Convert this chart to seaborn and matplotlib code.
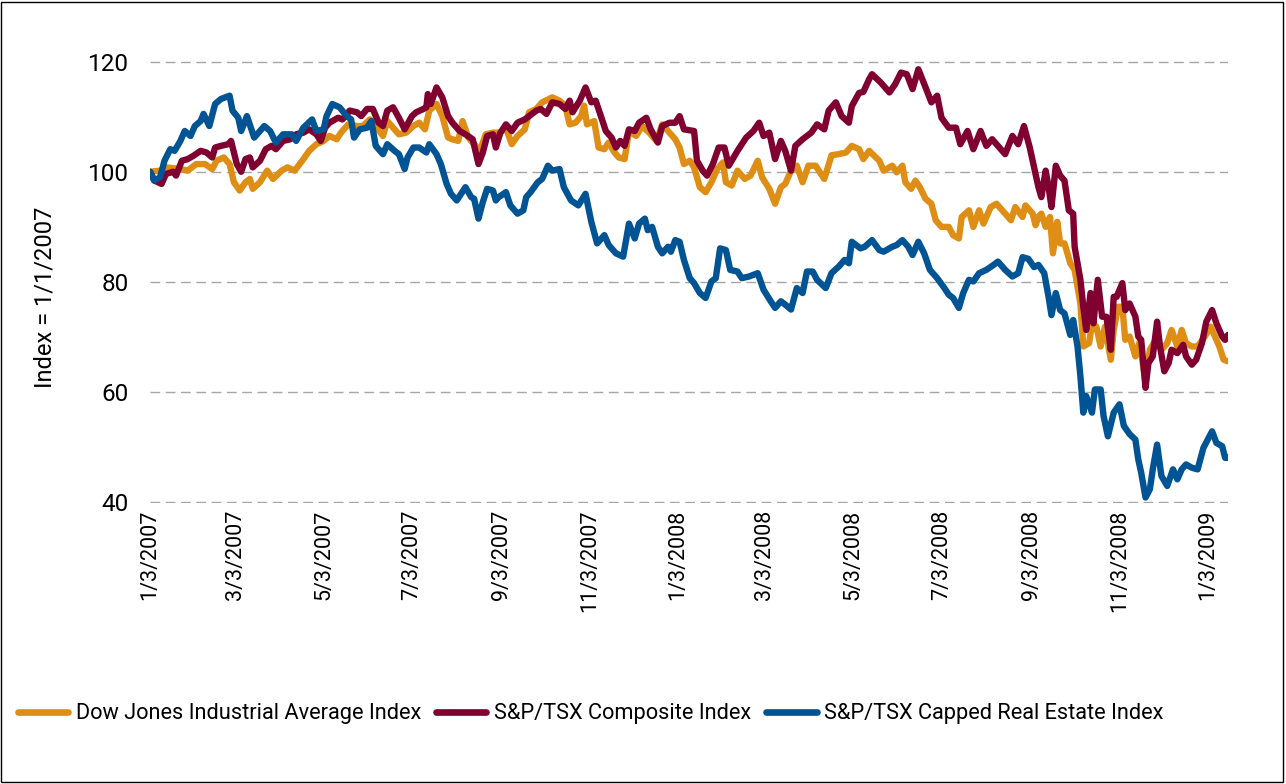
import pandas as pd
import matplotlib
matplotlib.use("Agg")
import matplotlib.pyplot as plt
import seaborn as sns
from matplotlib.patches import Rectangle

# days after 1/3/2007, values indexed to 100
start = pd.Timestamp("2007-01-03")

dow_days = [0, 7, 11, 21, 26, 32, 38, 43, 46, 51,
            55, 58, 62, 66, 69, 71, 76, 81, 85, 91,
            95, 100, 106, 110, 115, 120, 124, 129, 132, 137,
            143, 147, 152, 156, 161, 164, 168, 172, 177, 182,
            186, 190, 193, 198, 202, 206, 209, 213, 216, 220,
            223, 228, 232, 237, 242, 246, 250, 254, 259, 262,
            267, 271, 278, 283, 287, 290, 294, 298, 300, 302,
            307, 310, 314, 317, 321, 324, 328, 331, 336, 340,
            345, 350, 354, 359, 363, 366, 369, 373, 376, 380,
            384, 388, 392, 396, 398, 402, 406, 411, 415, 420,
            423, 428, 432, 436, 439, 443, 447, 451, 455, 460,
            466, 471, 476, 481, 485, 490, 493, 497, 504, 507,
            513, 516, 520, 522, 526, 529, 532, 536, 540, 543,
            547, 552, 555, 559, 561, 566, 569, 573, 576, 581,
            585, 590, 595, 598, 603, 605, 610, 612, 614, 616,
            619, 622, 624, 627, 629, 632, 636, 639, 643, 645,
            649, 651, 654, 657, 660, 664, 666, 669, 672, 674,
            677, 681, 684, 688, 691, 695, 699, 703, 706, 710,
            713, 716, 720, 724, 729, 733, 736, 739, 742, 745]
dow_vals = [100, 100.2, 100.8, 100.5, 100.2, 101.4, 101.4, 100.5, 102, 102.6,
            101.4, 98.1, 96.6, 98.1, 98.7, 96.9, 98.1, 100.2, 98.7, 100.2,
            100.8, 100.2, 102.3, 103.8, 105, 105.6, 106.5, 105.9, 107.1, 108.6,
            108.3, 108.3, 109.5, 108.3, 106.5, 109.2, 108, 106.8, 107.1, 108.3,
            108.9, 107.7, 111.1, 112.3, 110.1, 106.2, 105.9, 105.6, 109.2, 106.2,
            105.3, 103.8, 106.8, 107.1, 107.1, 108, 105, 106.5, 107.7, 110.8,
            111.4, 112.6, 113.5, 112.9, 112, 108.6, 108.9, 110.1, 112, 108.6,
            109.2, 104.4, 104.1, 105.3, 103.5, 102.6, 102.3, 107.4, 106.5, 108.3,
            107.1, 105.6, 108.6, 107.1, 105.9, 104.4, 101.4, 102, 100.8, 97.2,
            96.3, 98.1, 100.5, 101.7, 98.1, 97.5, 100.2, 98.7, 99.3, 102,
            99, 96.9, 94.2, 97.2, 97.8, 100.2, 101.1, 98.1, 101.1, 101.1,
            98.7, 103, 103.2, 103.5, 104.7, 104.1, 102.3, 103.8, 102, 100.2,
            101.1, 99.9, 101.1, 98.1, 96.9, 98.4, 97.2, 95.1, 94.2, 91.2,
            90, 90, 88.5, 87.9, 91.8, 93, 90, 93, 90.6, 93.6,
            94.2, 92.7, 91.2, 93.6, 91.8, 93.9, 92.4, 90.3, 91.8, 92.4,
            90, 91.8, 85.2, 90.9, 87, 87, 83.4, 82.2, 76.1, 68.3,
            68.9, 72.5, 71.9, 68.3, 71.9, 65.9, 71.3, 75.5, 75.5, 69.5,
            70.1, 66.5, 69.2, 61.7, 67.7, 69.5, 67.7, 68.9, 71.3, 68.3,
            71.3, 68.9, 68.3, 68.3, 70.1, 71.9, 70.1, 68.3, 65.9, 65.6]

tsx_days = [0, 3, 8, 11, 16, 18, 22, 26, 30, 35,
            39, 43, 45, 49, 54, 56, 60, 63, 66, 69,
            71, 76, 80, 84, 87, 92, 97, 101, 106, 110,
            115, 118, 121, 124, 130, 133, 138, 143, 146, 150,
            154, 158, 161, 164, 168, 172, 176, 181, 184, 189,
            191, 192, 194, 198, 202, 206, 209, 214, 218, 223,
            227, 230, 233, 237, 239, 242, 246, 250, 254, 259,
            262, 267, 270, 274, 278, 283, 287, 290, 292, 297,
            301, 305, 308, 312, 315, 319, 322, 325, 328, 331,
            335, 338, 343, 346, 351, 354, 359, 363, 366, 369,
            376, 378, 382, 385, 389, 393, 397, 400, 406, 412,
            417, 421, 424, 428, 432, 436, 439, 443, 446, 451,
            457, 461, 466, 469, 474, 478, 483, 485, 490, 493,
            497, 499, 505, 511, 515, 519, 523, 527, 531, 536,
            540, 544, 547, 552, 557, 560, 565, 569, 574, 578,
            582, 586, 591, 596, 600, 604, 608, 611, 614, 616,
            619, 621, 623, 626, 629, 632, 635, 638, 639, 643,
            645, 647, 650, 652, 655, 658, 661, 664, 666, 668,
            672, 674, 677, 681, 683, 685, 688, 690, 693, 696,
            698, 701, 704, 706, 710, 714, 716, 720, 723, 727,
            730, 734, 737, 741, 743, 745]
tsx_vals = [100, 98.4, 97.8, 99.6, 100, 99.3, 102, 102.3, 102.9, 103.8,
            103.5, 102.6, 104.4, 104.7, 105, 105.6, 101.4, 100, 102.3, 102.6,
            100.8, 102, 104.1, 104.7, 104.1, 105.6, 105.9, 106.8, 107.1, 107.7,
            106.8, 105.6, 108, 108.9, 109.8, 109.5, 111.1, 110.8, 110.1, 111.4,
            111.4, 108.9, 108.3, 111.1, 111.7, 109.8, 107.7, 110.1, 110.8, 111.4,
            111.7, 114.1, 112.3, 115.3, 113.5, 110.1, 108.9, 107.4, 106.8, 105.9,
            101.4, 103.5, 106.5, 106.8, 104.4, 107, 108.6, 107.4, 108.9, 109.5,
            110.1, 111.1, 111.4, 110.5, 112.6, 112.3, 111.4, 112.9, 110.8, 112.9,
            115.3, 112.6, 112.9, 109.8, 107.4, 106.2, 104.4, 105.6, 104.7, 107.7,
            107.4, 108.9, 109.8, 107.7, 105.3, 108.3, 108.9, 108.9, 110.1, 107.7,
            107.4, 102, 100.2, 99.3, 101.4, 104.4, 104.4, 101.1, 103.8, 106.2,
            107.4, 108.9, 106.5, 107.1, 102.3, 105.6, 103.8, 100.2, 104.7, 105.9,
            107.1, 108.6, 107.7, 111.1, 112.6, 110.1, 108.9, 111.9, 114.3, 114.5,
            116.8, 117.7, 116.2, 114.4, 115.9, 118, 117.7, 115, 118.6, 115.3,
            112.6, 113.8, 109.8, 108, 108, 105, 107.4, 104.1, 107.4, 104.7,
            105.9, 104.7, 103.2, 106.5, 105, 108.3, 104.4, 100.8, 97.2, 95.4,
            100.2, 97.2, 93.6, 101.1, 99.3, 98.4, 93, 92.4, 86.4, 80.4,
            75.5, 71.3, 78, 72.5, 80.4, 73.7, 73.7, 67.7, 77.3, 77.3,
            79.8, 74.9, 76.1, 73.7, 70.1, 69.5, 60.8, 65.3, 66.5, 72.8,
            68.3, 63.8, 65.3, 67.7, 67.1, 68.6, 66.5, 65, 65.9, 68.9,
            72.8, 74.9, 72.5, 70.1, 69.5, 70.4]

reit_days = [0, 3, 7, 10, 14, 17, 21, 24, 28, 31,
             35, 37, 41, 45, 49, 55, 57, 61, 63, 67,
             72, 79, 83, 87, 92, 98, 101, 106, 112, 115,
             120, 122, 126, 131, 136, 139, 141, 145, 150, 153,
             156, 161, 164, 169, 172, 176, 178, 182, 186, 191,
             193, 198, 201, 205, 208, 212, 215, 218, 222, 224,
             227, 230, 233, 237, 239, 241, 246, 249, 254, 258,
             260, 263, 268, 271, 275, 278, 283, 286, 291, 296,
             301, 305, 309, 314, 317, 322, 327, 331, 335, 338,
             342, 344, 347, 351, 354, 358, 360, 363, 366, 369,
             373, 376, 380, 384, 388, 391, 394, 398, 401, 406,
             409, 414, 420, 424, 429, 432, 436, 439, 443, 447,
             451, 454, 458, 461, 467, 471, 476, 480, 483, 485,
             491, 494, 499, 504, 507, 513, 516, 520, 524, 527,
             531, 535, 539, 544, 549, 552, 555, 559, 562, 566,
             569, 573, 578, 583, 586, 591, 596, 600, 603, 607,
             611, 614, 618, 621, 623, 626, 629, 632, 636, 638,
             641, 643, 645, 647, 651, 653, 657, 659, 662, 666,
             670, 673, 677, 681, 683, 685, 688, 691, 693, 696,
             699, 703, 707, 710, 713, 716, 720, 724, 728, 731,
             734, 737, 741, 743, 745]
reit_vals = [100, 98.4, 99, 102, 104.1, 103.8, 105.6, 107.4, 106.5, 108.3,
             109.2, 110.5, 108.3, 112.3, 113.2, 113.8, 111.1, 109.8, 107.4, 110.1,
             106.2, 108.3, 107.4, 105.3, 106.8, 106.8, 105.6, 108, 109.5, 107.4,
             107.7, 110.1, 112.3, 111.7, 110.1, 109.5, 106.2, 107.7, 108, 109.2,
             104.7, 103.2, 105, 103.8, 103.2, 100.5, 102.6, 104.4, 104.4, 103.5,
             105, 103.2, 101.4, 97.8, 96, 94.8, 96, 97.2, 95.4, 95.1,
             91.5, 94.5, 96.9, 96.6, 94.8, 95.4, 96.3, 93.9, 92.4, 93,
             95.4, 96.3, 98.1, 98.7, 101.1, 100.2, 100.5, 97.2, 94.8, 93.9,
             96, 90.9, 87, 88.5, 86.7, 85.2, 84.6, 90.6, 87.9, 90.6,
             91.5, 89.4, 90, 86.4, 85.2, 86.4, 85.5, 87.6, 87.3, 84,
             80.7, 79.8, 78, 77.1, 80.1, 80.7, 86.1, 85.8, 82.2, 81.9,
             80.7, 81, 81.6, 78.6, 76.5, 75.3, 76.5, 75.9, 75, 78.9,
             78, 81.9, 81.9, 80.4, 78.9, 81.6, 82.8, 84, 83.4, 87.3,
             86.1, 86.4, 87.6, 85.8, 85.5, 86.4, 86.7, 87.6, 86.4, 84.9,
             87.3, 85.2, 82.2, 80.7, 78.9, 77.7, 77.1, 75.3, 78, 80.4,
             80.1, 81.6, 82.2, 83.1, 83.7, 82.2, 81, 81.6, 84.5, 84.2,
             82.7, 83.1, 81.6, 77.3, 74, 78, 74.9, 74.3, 70.4, 73.1,
             68.3, 62.9, 56.3, 59.3, 56.3, 60.5, 60.5, 55.7, 52, 56.3,
             57.8, 53.9, 52.4, 51.4, 47.8, 45.4, 40.9, 42.4, 46, 50.5,
             44.8, 43, 46, 44.2, 46, 46.9, 46.3, 46, 49.9, 51.4,
             52.9, 50.8, 50.2, 48.1, 48.1]

series_names = ["Dow Jones Industrial Average Index",
                "S&P/TSX Composite Index",
                "S&P/TSX Capped Real Estate Index"]
colors = ["#DE8E14", "#80002F", "#005493"]

tick_dates = ["2007-01-03", "2007-03-03", "2007-05-03", "2007-07-03", "2007-09-03",
              "2007-11-03", "2008-01-03", "2008-03-03", "2008-05-03", "2008-07-03",
              "2008-09-03", "2008-11-03", "2009-01-03"]
tick_labels = ["1/3/2007", "3/3/2007", "5/3/2007", "7/3/2007", "9/3/2007",
               "11/3/2007", "1/3/2008", "3/3/2008", "5/3/2008", "7/3/2008",
               "9/3/2008", "11/3/2008", "1/3/2009"]
y_ticks = [40, 60, 80, 100, 120]

frames = []
for name, days, vals in zip(series_names, [dow_days, tsx_days, reit_days],
                            [dow_vals, tsx_vals, reit_vals]):
    frames.append(pd.DataFrame({
        "date": start + pd.to_timedelta(days, unit="D"),
        "value": vals,
        "series": name}))
df = pd.concat(frames, ignore_index=True)

sns.set_theme(style="white")
plt.rcParams['font.family'] = ['Roboto', 'DejaVu Sans']
plt.rcParams['text.color'] = 'black'
plt.rcParams['xtick.color'] = 'black'
plt.rcParams['ytick.color'] = 'black'
plt.rcParams['axes.labelcolor'] = 'black'

fig = plt.figure(figsize=(12.86, 7.84), dpi=100)
ax = fig.add_axes([150 / 1286, 1 - 503 / 784, 1078 / 1286, 442 / 784])

sns.lineplot(data=df, x="date", y="value", hue="series", hue_order=series_names,
             palette=colors, linewidth=4.6, estimator=None, sort=False, ax=ax)

ax.set_xlim(start, start + pd.Timedelta(days=745))
ax.set_ylim(39.9, 120.1)
ax.set_yticks(y_ticks)
ax.set_yticklabels([str(v) for v in y_ticks], fontsize=17.5)
ax.set_xticks(pd.to_datetime(tick_dates))
ax.set_xticklabels(tick_labels, rotation=90, fontsize=15.5)
ax.tick_params(axis="x", length=0, pad=5)
ax.tick_params(axis="y", length=0, pad=15.5)
ax.set_xlabel("")
ax.set_ylabel("Index = 1/1/2007", fontsize=17)
ax.yaxis.set_label_coords((57 - 150) / 1078, 0.466)

ax.yaxis.grid(True, color="#A6A6A6", linestyle=(0, (7, 4)), linewidth=1)
ax.xaxis.grid(False)
for s in ax.spines.values():
    s.set_visible(False)

handles, labels = ax.get_legend_handles_labels()
ax.get_legend().remove()
leg = fig.legend(handles, labels, loc="center left", bbox_to_anchor=(18 / 1286, 1 - 714 / 784),
                 ncol=3, frameon=False, fontsize=15.7, handlelength=2.3, borderpad=0,
                 borderaxespad=0, handletextpad=0.35, columnspacing=0.7)
for h in leg.get_lines():
    h.set_linewidth(4.8)

fig.add_artist(Rectangle((0.001, 0.002), 0.997, 0.996, transform=fig.transFigure,
                         fill=False, edgecolor="black", linewidth=1))

fig.savefig("out.png", dpi=100)
